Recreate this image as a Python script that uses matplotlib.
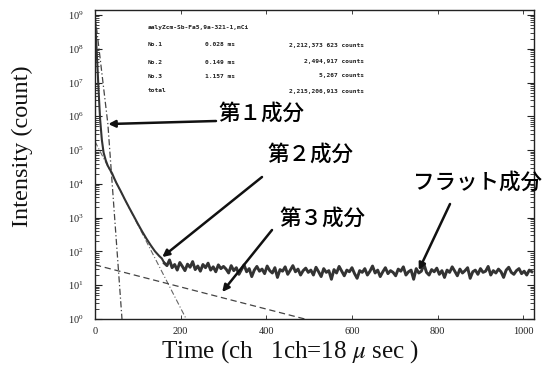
import numpy as np
import matplotlib
matplotlib.use("Agg")
import matplotlib.pyplot as plt
from matplotlib.ticker import LogLocator, FixedLocator, NullFormatter

plt.rcParams['font.family'] = ['Liberation Serif', 'DejaVu Serif']
plt.rcParams['mathtext.fontset'] = 'stix'

# measured curve, steep start (channel, counts)
early_ch = [0, 3, 6, 9, 12, 16, 20, 25, 30, 36, 40, 45, 50, 60, 70, 80,
            90, 100, 110, 120, 130, 140, 150, 156]
early_counts = [8e8, 1.5e8, 2.5e7, 4e6, 8e5, 2e5, 8.5e4, 5e4, 3.4e4,
                2.5e4, 2.04e4, 1.45e4, 1.06e4, 6.1e3, 3.4e3, 1.95e3, 1.14e3,
                660, 392, 240, 153, 101, 73, 62]
# flat, noisy tail: one value every 6 channels starting at ch 162
tail_counts = [45, 38, 56, 33, 41, 28, 47, 36, 27, 42, 34, 50, 29, 37, 26, 41,
               33, 45, 28, 35, 25, 40, 31, 36,
               30, 23, 38, 27, 33, 21, 29, 40, 25, 31, 18, 28, 36, 26, 30, 22,
               37, 27, 23, 33, 17, 29, 26, 35, 21, 28, 38, 25, 30, 20, 27, 32, 24,
               28, 20, 34, 25, 18, 31, 24, 27, 15, 29, 23, 36, 26, 19, 28, 25,
               33, 22, 16, 27, 24, 31, 20, 26, 37, 23, 28, 18, 25, 33, 22, 27,
               24, 19, 30, 26, 35, 20, 25, 28, 15, 31, 23, 26, 42, 24, 20, 29,
               25, 32, 21, 27, 17, 28, 24, 35, 26, 19, 30, 23, 27, 33, 16, 25,
               28, 21, 31, 24, 26, 36, 20, 27, 23, 30, 25, 17, 28, 34, 24, 21,
               27, 31, 22, 26, 20, 28, 25]
tail_start, tail_step = 162, 6

# fitted components
comp1_ch = [0, 30, 63]
comp1_counts = [1e9, 6e5, 1]
comp2_ch = [0, 213]
comp2_counts = [1.8e5, 1]
comp3_ch = [0, 490]
comp3_counts = [40, 1]

fig = plt.figure(figsize=(5.44, 3.71), dpi=100)
ax = fig.add_axes([95/544, 1-319/371, (534-95)/544, (319-10)/371])

tail_ch = tail_start + tail_step*np.arange(len(tail_counts))

ax.plot(comp1_ch, comp1_counts, color='#444444', lw=0.9, ls=(0, (5, 2, 1, 2)))
ax.plot(comp2_ch, comp2_counts, color='#666666', lw=0.8, ls=(0, (5, 2, 1, 2)))
ax.plot(comp3_ch, comp3_counts, color='#444444', lw=0.9, ls=(0, (5, 3)))
ax.plot(early_ch + [tail_ch[0]], early_counts + [tail_counts[0]],
        color='#333333', lw=1.5)
ax.plot(tail_ch, tail_counts, color='#333333', lw=2.1)

ax.set_yscale('log')
ax.set_xlim(0, 1025)
ax.set_ylim(1, 1.4e9)
ax.yaxis.set_major_locator(LogLocator(base=10, numticks=12))
ax.yaxis.set_minor_locator(LogLocator(base=10, subs=np.arange(2, 10), numticks=12))
ax.yaxis.set_minor_formatter(NullFormatter())
ax.xaxis.set_major_locator(FixedLocator([0, 200, 400, 600, 800, 1000]))
ax.tick_params(axis='both', which='both', direction='in', right=True, top=True,
               colors='#222222', labelsize=7.5)
ax.tick_params(axis='y', which='major', length=5, width=0.8, pad=8)
ax.tick_params(axis='y', which='minor', length=3, width=0.6)
ax.tick_params(axis='x', which='major', length=3, width=0.6, pad=6)
for s in ax.spines.values():
    s.set_linewidth(1.0)
    s.set_color('#222222')

# small text block inside the plot
small = dict(fontsize=4.5, family='DejaVu Sans Mono', weight='bold',
             color='#222222', transform=fig.transFigure, va='center')
fig.text(148/544, 1-28/371, 'aalyZcm-Sb-Fa5,9a-321-1,mCi', **small)
rows = [('No.1', '0.028 ms', '2,212,373 623 counts'),
        ('No.2', '0.149 ms', '2,494,917 counts'),
        ('No.3', '1.157 ms', '5,267 counts'),
        ('total', '', '2,215,206,913 counts')]
for i, (a, b, c) in enumerate(rows):
    yy = 1 - [45, 62, 76, 91][i]/371
    fig.text(148/544, yy, a, **small)
    fig.text(205/544, yy, b, **small)
    fig.text(364/544, yy, c, ha='right', **small)

# component labels with arrows
jp = dict(family=['Noto Sans CJK JP', 'DejaVu Sans'], fontsize=15.5,
          weight='medium', color='black', ha='center', va='center')
labels = ['第１成分', '第２成分', '第３成分', 'フラット成分']
label_pos = [(261, 114), (310, 155), (322, 219), (477, 183)]
tails = [(216, 121), (262, 177), (272, 230), (450, 204)]
tips = [(31, 5.9e5), (157, 68), (297, 6.3), (756, 28)]
for lab, (lx, ly), (tx, ty), tip in zip(labels, label_pos, tails, tips):
    fig.text(lx/544, 1-ly/371, lab, **jp)
    ax.annotate('', xy=tip, xycoords='data',
                xytext=(tx/544, 1-ty/371), textcoords='figure fraction',
                arrowprops=dict(arrowstyle='-|>', color='#111111', lw=1.8,
                                mutation_scale=10, shrinkA=0, shrinkB=0))

fig.text(22/544, 1-146/371, 'Intensity (count)', rotation=90, fontsize=17.5,
         ha='center', va='center', color='#111111')
fig.text(290/544, 1-352/371, r'Time (ch   1ch=18 $\mu$ sec )', fontsize=18,
         ha='center', va='center', color='#111111')

fig.savefig('out.png', dpi=100)
